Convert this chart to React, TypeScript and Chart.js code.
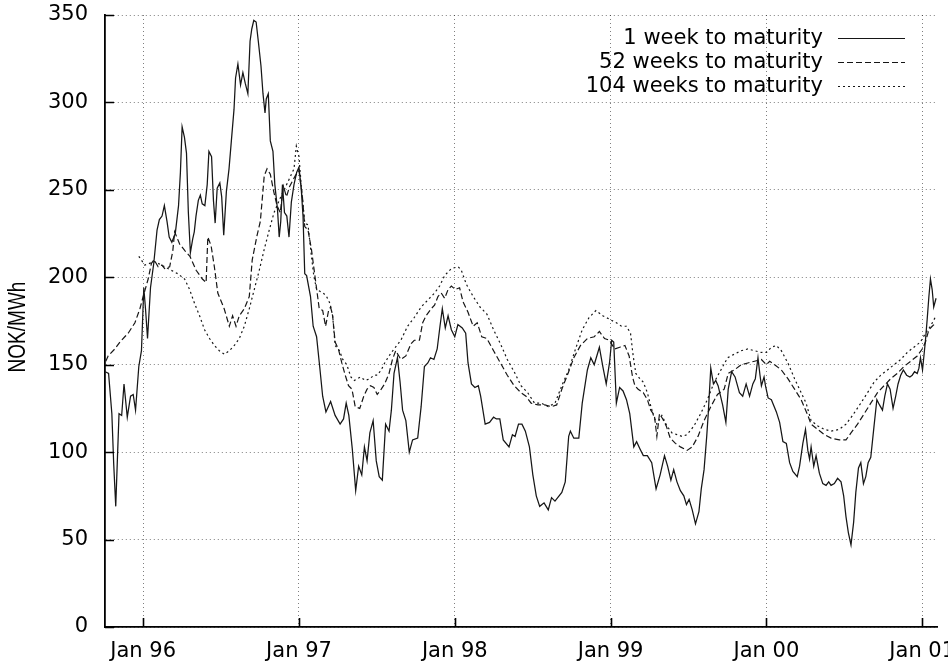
import React, { useEffect, useRef } from 'react';
import { Chart, registerables } from 'chart.js';

Chart.register(...registerables);

// ---- axis / legend text ----
const tickYears = [1996, 1997, 1998, 1999, 2000, 2001];
const tickLabels = ['Jan 96', 'Jan 97', 'Jan 98', 'Jan 99', 'Jan 00', 'Jan 01'];
const yTicks = [0, 50, 100, 150, 200, 250, 300, 350];
const seriesNames = ['1 week to maturity', '52 weeks to maturity', '104 weeks to maturity'];
const yTitle = 'NOK/MWh';

// ---- 1 week to maturity (time as decimal year, price NOK/MWh) ----
const t1 = [
  1995.756, 1995.778, 1995.799, 1995.811, 1995.824, 1995.835, 1995.845, 1995.862, 1995.877, 1995.898, 1995.919, 1995.936, 1995.951, 1995.972, 1995.989,
  1996.004, 1996.015, 1996.028, 1996.047, 1996.068, 1996.089, 1996.104, 1996.121, 1996.136, 1996.153, 1996.167, 1996.184, 1996.206, 1996.227, 1996.239,
  1996.25, 1996.265, 1996.278, 1996.29, 1996.303, 1996.318, 1996.328, 1996.339, 1996.354, 1996.367, 1996.379, 1996.396, 1996.411, 1996.422, 1996.439,
  1996.451, 1996.462, 1996.475, 1996.492, 1996.504, 1996.517, 1996.534, 1996.551, 1996.566, 1996.583, 1996.593, 1996.608, 1996.625, 1996.64, 1996.655,
  1996.672, 1996.686, 1996.697, 1996.71, 1996.725, 1996.739, 1996.756, 1996.769, 1996.782, 1996.79, 1996.803, 1996.816, 1996.833, 1996.845, 1996.862,
  1996.873, 1996.883, 1996.894, 1996.907, 1996.922, 1996.936, 1996.951, 1996.968, 1996.985,
  1997.0, 1997.015, 1997.026, 1997.037, 1997.049, 1997.074, 1997.091, 1997.113, 1997.134, 1997.152, 1997.173, 1997.203, 1997.232, 1997.264, 1997.286,
  1997.303, 1997.32, 1997.342, 1997.364, 1997.383, 1997.403, 1997.42, 1997.437, 1997.455, 1997.476, 1997.496, 1997.515, 1997.535, 1997.556, 1997.578,
  1997.593, 1997.61, 1997.632, 1997.649, 1997.665, 1997.686, 1997.708, 1997.729, 1997.762, 1997.784, 1997.805, 1997.827, 1997.844, 1997.866, 1997.887,
  1997.905, 1997.92, 1997.939, 1997.957, 1997.978,
  1998.0, 1998.02, 1998.048, 1998.07, 1998.085, 1998.107, 1998.129, 1998.151, 1998.166, 1998.195, 1998.223, 1998.249, 1998.267, 1998.289, 1998.311,
  1998.348, 1998.37, 1998.387, 1998.409, 1998.431, 1998.453, 1998.479, 1998.501, 1998.523, 1998.545, 1998.573, 1998.6, 1998.621, 1998.643, 1998.687,
  1998.709, 1998.731, 1998.742, 1998.764, 1998.796, 1998.818, 1998.851, 1998.873, 1998.895, 1998.928, 1998.95, 1998.972, 1998.993,
  1999.007, 1999.02, 1999.026, 1999.037, 1999.058, 1999.08, 1999.102, 1999.123, 1999.149, 1999.167, 1999.188, 1999.21, 1999.236, 1999.264, 1999.292,
  1999.318, 1999.346, 1999.366, 1999.387, 1999.405, 1999.426, 1999.448, 1999.47, 1999.487, 1999.504, 1999.524, 1999.545, 1999.567, 1999.582, 1999.6,
  1999.617, 1999.626, 1999.643, 1999.66, 1999.675, 1999.69, 1999.719, 1999.74, 1999.755, 1999.777, 1999.799, 1999.827, 1999.848, 1999.87, 1999.892,
  1999.913, 1999.929, 1999.946, 1999.959, 1999.968, 1999.985, 1999.994,
  2000.011, 2000.032, 2000.064, 2000.085, 2000.106, 2000.128, 2000.149, 2000.17, 2000.198, 2000.213, 2000.234, 2000.251, 2000.266, 2000.277, 2000.287,
  2000.304, 2000.319, 2000.34, 2000.362, 2000.383, 2000.4, 2000.415, 2000.436, 2000.457, 2000.479, 2000.496, 2000.511, 2000.526, 2000.543, 2000.56,
  2000.574, 2000.591, 2000.606, 2000.623, 2000.638, 2000.653, 2000.67, 2000.691, 2000.709, 2000.726, 2000.745, 2000.76, 2000.777, 2000.794, 2000.813,
  2000.83, 2000.845, 2000.862, 2000.879, 2000.9, 2000.921, 2000.936, 2000.951, 2000.968, 2000.979, 2000.989,
  2001.002, 2001.011, 2001.021, 2001.032, 2001.043, 2001.053, 2001.064, 2001.074, 2001.089,
];
const v1 = [
  146, 145, 122, 93, 69, 97, 122, 121, 139, 120, 132, 133, 124, 149, 158,
  194, 182, 165, 194, 208, 227, 233, 235, 241, 232, 223, 220, 225, 241, 260,
  286, 280, 271, 237, 214, 222, 226, 235, 244, 247, 242, 241, 253, 272, 269,
  244, 231, 251, 254, 246, 224, 249, 262, 278, 296, 314, 322, 310, 317, 311,
  305, 335, 342, 347, 346, 335, 321, 305, 294, 302, 305, 278, 272, 253, 239,
  223, 232, 253, 237, 235, 223, 243, 253, 260,
  263, 250, 235, 202, 201, 189, 172, 166, 148, 132, 123, 129, 121, 116, 119,
  128, 121, 102, 78, 92, 87, 103, 95, 111, 118, 95, 86, 84, 116, 112,
  124, 145, 154, 140, 124, 118, 100, 107, 108, 126, 149, 151, 154, 153, 159,
  172, 182, 171, 178, 170,
  166, 173, 171, 168, 151, 139, 137, 138, 132, 116, 117, 120, 119, 119, 107,
  103, 110, 109, 116, 116, 112, 103, 87, 75, 69, 71, 67, 74, 72, 77,
  83, 109, 112, 108, 108, 128, 147, 154, 150, 160, 149, 139, 151,
  164, 163, 151, 128, 137, 135, 130, 122, 103, 106, 102, 98, 98, 94, 79,
  87, 98, 92, 84, 90, 83, 78, 75, 70, 73, 67, 59, 66, 79, 90,
  109, 121, 148, 139, 141, 138, 127, 117, 136, 146, 143, 134, 132, 139, 132,
  139, 142, 154, 144, 138, 143, 138,
  131, 130, 123, 117, 106, 105, 94, 89, 86, 92, 105, 113, 101, 96, 103,
  92, 98, 88, 82, 81, 83, 81, 82, 85, 83, 75, 63, 54, 47, 60,
  77, 91, 94, 82, 86, 94, 97, 115, 130, 127, 124, 132, 139, 136, 125,
  132, 139, 144, 147, 144, 143, 144, 146, 145, 148, 154,
  147, 155, 164, 176, 189, 199, 193, 183, 188,
];

// ---- 52 weeks to maturity ----
const t2 = [
  1995.76, 1995.775, 1995.818, 1995.851, 1995.882, 1995.904, 1995.947, 1995.979,
  1996.0, 1996.032, 1996.053, 1996.07, 1996.096, 1996.12, 1996.138, 1996.17, 1996.19, 1996.202, 1996.234, 1996.27, 1996.3, 1996.34, 1996.38, 1996.404,
  1996.415, 1996.436, 1996.457, 1996.479, 1996.52, 1996.553, 1996.574, 1996.596, 1996.617, 1996.649, 1996.681, 1996.7, 1996.731, 1996.752, 1996.777,
  1996.795, 1996.816, 1996.838, 1996.859, 1996.88, 1996.9, 1996.92, 1996.94, 1996.976,
  1997.0, 1997.022, 1997.037, 1997.058, 1997.08, 1997.102, 1997.13, 1997.152, 1997.171, 1997.19, 1997.203, 1997.216, 1997.232, 1997.253, 1997.275,
  1997.297, 1997.318, 1997.34, 1997.361, 1997.39, 1997.416, 1997.437, 1997.459, 1997.481, 1997.502, 1997.528, 1997.55, 1997.578, 1997.6, 1997.621,
  1997.654, 1997.686, 1997.719, 1997.74, 1997.773, 1997.794, 1997.816, 1997.848, 1997.87, 1997.892, 1997.913, 1997.935, 1997.957, 1997.978,
  1998.004, 1998.031, 1998.053, 1998.085, 1998.118, 1998.144, 1998.173, 1998.206, 1998.249, 1998.293, 1998.337, 1998.381, 1998.425, 1998.457, 1998.49,
  1998.534, 1998.578, 1998.621, 1998.654, 1998.687, 1998.731, 1998.764, 1998.807, 1998.851, 1998.895, 1998.928, 1998.961, 1998.993,
  1999.026, 1999.059, 1999.092, 1999.119, 1999.141, 1999.156, 1999.177, 1999.21, 1999.236, 1999.258, 1999.281, 1999.297, 1999.314, 1999.335, 1999.357,
  1999.383, 1999.416, 1999.448, 1999.491, 1999.524, 1999.561, 1999.6, 1999.643, 1999.686, 1999.729, 1999.755, 1999.794, 1999.838, 1999.881, 1999.924,
  1999.968,
  2000.0, 2000.021, 2000.053, 2000.096, 2000.138, 2000.181, 2000.223, 2000.266, 2000.287, 2000.33, 2000.372, 2000.415, 2000.468, 2000.511, 2000.543,
  2000.585, 2000.628, 2000.67, 2000.713, 2000.755, 2000.798, 2000.84, 2000.883, 2000.926, 2000.968,
  2001.0, 2001.021, 2001.043, 2001.064, 2001.089,
];
const v2 = [
  152, 155, 159, 163, 166, 168, 174, 182,
  189, 199, 208, 210, 206, 207, 205, 206, 215, 226, 219, 215, 212, 204, 199, 197,
  223, 218, 206, 191, 182, 172, 178, 172, 178, 182, 189, 210, 224, 232, 258,
  262, 259, 249, 241, 237, 252, 246, 252, 258,
  261, 246, 229, 227, 216, 201, 182, 181, 172, 181, 183, 178, 163, 159, 151,
  144, 138, 136, 126, 125, 132, 136, 138, 137, 133, 136, 139, 145, 153, 158,
  153, 155, 162, 164, 164, 174, 178, 182, 184, 189, 191, 188, 193, 195,
  193, 194, 186, 180, 172, 174, 166, 165, 158, 151, 144, 138, 134, 132, 128,
  127, 127, 126, 127, 136, 146, 154, 161, 165, 166, 169, 165, 164,
  159, 160, 161, 155, 143, 138, 136, 134, 130, 124, 121, 109, 122, 119, 115,
  108, 105, 103, 101, 103, 109, 118, 126, 133, 136, 145, 147, 150, 151, 152,
  153,
  150, 152, 150, 147, 142, 136, 130, 121, 116, 113, 110, 108, 107, 107, 111,
  116, 122, 128, 134, 138, 142, 145, 149, 152, 155,
  159, 163, 170, 172, 174,
];

// ---- 104 weeks to maturity ----
const t3 = [
  1995.972,
  1996.01, 1996.074, 1996.138, 1996.18, 1996.223, 1996.266, 1996.298, 1996.33, 1996.362, 1996.394, 1996.426, 1996.457, 1996.489, 1996.521, 1996.553,
  1996.585, 1996.617, 1996.649, 1996.681, 1996.713, 1996.745, 1996.777, 1996.809, 1996.84, 1996.883, 1996.926, 1996.968, 1996.983,
  1997.0, 1997.015, 1997.037, 1997.058, 1997.08, 1997.095, 1997.113, 1997.134, 1997.156, 1997.177, 1997.199, 1997.216, 1997.232, 1997.26, 1997.281,
  1997.307, 1997.333, 1997.355, 1997.394, 1997.426, 1997.455, 1997.481, 1997.502, 1997.528, 1997.55, 1997.578, 1997.61, 1997.654, 1997.697, 1997.74,
  1997.784, 1997.827, 1997.87, 1997.903, 1997.935, 1997.978,
  1998.022, 1998.042, 1998.074, 1998.118, 1998.162, 1998.206, 1998.249, 1998.293, 1998.337, 1998.381, 1998.425, 1998.468, 1998.512, 1998.556, 1998.6,
  1998.643, 1998.687, 1998.731, 1998.775, 1998.818, 1998.862, 1998.906, 1998.95, 1998.993,
  1999.037, 1999.07, 1999.102, 1999.128, 1999.145, 1999.162, 1999.188, 1999.21, 1999.236, 1999.253, 1999.275, 1999.297, 1999.329, 1999.361, 1999.394,
  1999.426, 1999.459, 1999.491, 1999.535, 1999.578, 1999.621, 1999.665, 1999.708, 1999.751, 1999.794, 1999.838, 1999.881, 1999.924, 1999.968,
  2000.0, 2000.032, 2000.064, 2000.096, 2000.138, 2000.181, 2000.223, 2000.255, 2000.287, 2000.33, 2000.372, 2000.415, 2000.468, 2000.511, 2000.553,
  2000.606, 2000.649, 2000.691, 2000.734, 2000.777, 2000.819, 2000.862, 2000.904, 2000.947, 2000.989,
  2001.021, 2001.053, 2001.089,
];
const v3 = [
  212,
  207, 209, 206, 204, 202, 199, 193, 185, 178, 170, 165, 161, 158, 156, 158,
  161, 165, 172, 182, 193, 204, 216, 227, 237, 246, 254, 262, 275,
  269, 252, 231, 230, 212, 201, 193, 192, 191, 189, 185, 178, 161, 158, 153,
  150, 143, 141, 143, 141, 142, 144, 144, 147, 151, 155, 159, 164, 172, 177,
  183, 187, 191, 195, 201, 205,
  206, 204, 196, 189, 183, 179, 170, 162, 153, 146, 138, 134, 128, 128, 126,
  128, 138, 147, 159, 170, 177, 181, 178, 176,
  174, 172, 172, 168, 155, 145, 142, 140, 134, 128, 121, 116, 121, 115, 111,
  110, 109, 110, 115, 122, 130, 140, 147, 154, 156, 158, 159, 158, 157,
  157, 160, 161, 158, 151, 142, 134, 128, 118, 115, 113, 112, 113, 116, 121,
  128, 134, 140, 144, 147, 150, 153, 157, 160, 163,
  168, 172, 178,
];

const toPoints = (ts: number[], vs: number[]) => ts.map((t, i) => ({ x: t, y: vs[i] }));

const LINE_COLOR = '#161616';
const GRID_COLOR = 'rgba(0,0,0,0.5)';
const TICK_FONT = { family: '"DejaVu Sans", sans-serif', size: 21 };

const innerTicksPlugin = {
  id: 'innerTicks',
  afterDraw(chart: any) {
    const { ctx, chartArea, scales } = chart;
    const xs = scales.x;
    const ys = scales.y;
    ctx.save();
    ctx.strokeStyle = '#000';
    ctx.lineWidth = 1.6;
    ctx.setLineDash([]);
    ctx.beginPath();
    yTicks.forEach((v) => {
      const py = Math.round(ys.getPixelForValue(v)) + 0.5;
      ctx.moveTo(chartArea.left, py);
      ctx.lineTo(chartArea.left + 9, py);
    });
    tickYears.forEach((v) => {
      const px = Math.round(xs.getPixelForValue(v)) + 0.5;
      ctx.moveTo(px, chartArea.bottom);
      ctx.lineTo(px, chartArea.bottom - 9);
    });
    ctx.stroke();
    ctx.restore();
  },
};

// y-axis title, drawn stretched sideways like the scanned original
const yTitlePlugin = {
  id: 'stretchedYTitle',
  afterDraw(chart: any) {
    const { ctx, chartArea } = chart;
    ctx.save();
    ctx.translate(18, (chartArea.top + chartArea.bottom) / 2 + 6);
    ctx.scale(1.3, 1);
    ctx.rotate(-Math.PI / 2);
    ctx.font = '19px "Liberation Sans", Arial, sans-serif';
    ctx.fillStyle = '#000';
    ctx.textAlign = 'center';
    ctx.textBaseline = 'middle';
    ctx.fillText(yTitle, 0, 0);
    ctx.restore();
  },
};

const keyPlugin = {
  id: 'gnuplotKey',
  afterDraw(chart: any) {
    const { ctx, chartArea } = chart;
    const textRight = chartArea.right - 114;
    const sampleLeft = chartArea.right - 99;
    const sampleRight = chartArea.right - 32;
    ctx.save();
    ctx.font = '21px "DejaVu Sans", sans-serif';
    ctx.fillStyle = '#000';
    ctx.textAlign = 'right';
    ctx.textBaseline = 'middle';
    chart.data.datasets.forEach((ds: any, i: number) => {
      const y = chartArea.top + 23 + i * 24;
      ctx.fillText(ds.label, textRight, y + 1);
      ctx.strokeStyle = ds.borderColor;
      ctx.lineWidth = 1.1;
      ctx.setLineDash(ds.borderDash || []);
      ctx.beginPath();
      ctx.moveTo(sampleLeft, y + 0.5);
      ctx.lineTo(sampleRight, y + 0.5);
      ctx.stroke();
    });
    ctx.restore();
  },
};

export default function App() {
  const canvasRef = useRef<HTMLCanvasElement | null>(null);

  useEffect(() => {
    if (!canvasRef.current) return;
    const chart = new Chart(canvasRef.current, {
      type: 'line',
      data: {
        datasets: [
          {
            label: seriesNames[0],
            data: toPoints(t1, v1),
            borderColor: LINE_COLOR,
            borderWidth: 1.25,
            borderDash: [],
            pointRadius: 0,
            tension: 0,
            fill: false,
          },
          {
            label: seriesNames[1],
            data: toPoints(t2, v2),
            borderColor: LINE_COLOR,
            borderWidth: 1.2,
            borderDash: [6, 3],
            pointRadius: 0,
            tension: 0,
            fill: false,
          },
          {
            label: seriesNames[2],
            data: toPoints(t3, v3),
            borderColor: LINE_COLOR,
            borderWidth: 1.2,
            borderDash: [2, 3],
            pointRadius: 0,
            tension: 0,
            fill: false,
          },
        ],
      },
      options: {
        responsive: false,
        animation: false,
        devicePixelRatio: 1,
        layout: { padding: { left: 0, right: 11, top: 15, bottom: 0 } },
        plugins: {
          legend: { display: false },
          tooltip: { enabled: false },
        },
        scales: {
          x: {
            type: 'linear',
            min: 1995.755,
            max: 2001.095,
            afterBuildTicks: (scale: any) => {
              scale.ticks = tickYears.map((v) => ({ value: v }));
            },
            afterFit: (scale: any) => {
              scale.height = 40;
              scale.paddingLeft = 0;
              scale.paddingRight = 0;
            },
            ticks: {
              autoSkip: false,
              maxRotation: 0,
              padding: 12,
              color: '#000',
              font: TICK_FONT,
              callback: (value: any) => {
                const i = tickYears.indexOf(Number(value));
                return i >= 0 ? tickLabels[i] : '';
              },
            },
            grid: {
              color: GRID_COLOR,
              lineWidth: 1,
              drawTicks: false,
            },
            border: { display: true, color: '#000', width: 1.8, dash: [1, 3] },
          },
          y: {
            type: 'linear',
            min: 0,
            max: 350,
            afterBuildTicks: (scale: any) => {
              scale.ticks = yTicks.map((v) => ({ value: v }));
            },
            afterFit: (scale: any) => {
              scale.width = 105;
              scale.paddingTop = 0;
              scale.paddingBottom = 0;
            },
            ticks: {
              padding: 17,
              color: '#000',
              font: TICK_FONT,
            },
            grid: {
              color: GRID_COLOR,
              lineWidth: 1,
              drawTicks: false,
            },
            border: { display: true, color: '#000', width: 1.8, dash: [1, 3] },
            title: { display: false },
          },
        },
      },
      plugins: [innerTicksPlugin, yTitlePlugin, keyPlugin],
    } as any);
    return () => chart.destroy();
  }, []);

  return (
    <div style={{ position: 'fixed', left: 0, top: 0, width: 948, height: 667, background: '#fff' }}>
      <canvas ref={canvasRef} width={948} height={667} style={{ display: 'block' }} />
    </div>
  );
}
